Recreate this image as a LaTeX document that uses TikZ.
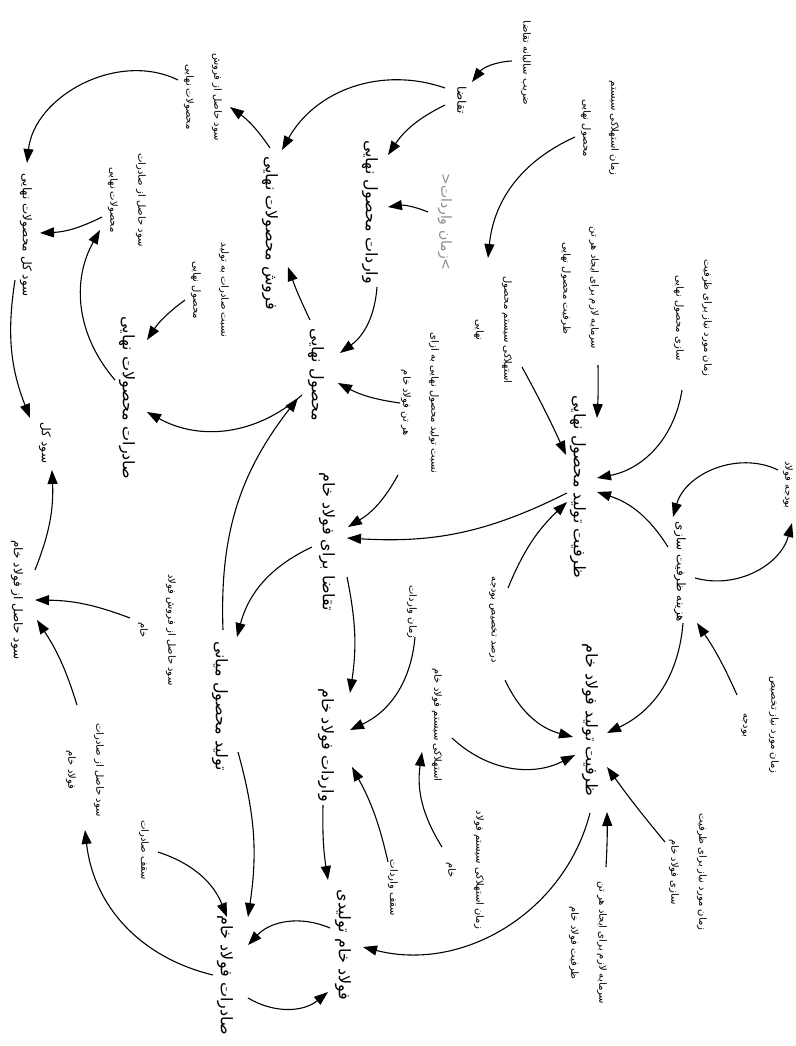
\documentclass[tikz,border=0pt]{standalone}
\usepackage{fontspec}
\usetikzlibrary{arrows.meta,calc}
\newfontfamily\arabicfont[Script=Arabic]{DejaVu Sans}
\TeXXeTstate=1
\newcommand{\fa}[1]{{\arabicfont\beginR #1\endR}}
\definecolor{shadowgray}{RGB}{140,140,140}
\begin{document}
\begin{tikzpicture}[x=1pt,y=1pt,
  vbig/.style={font=\fontsize{16}{19}\selectfont, inner sep=1pt},
  vmed/.style={font=\fontsize{12}{15}\selectfont, inner sep=1pt},
  vsmall/.style={font=\fontsize{10}{28}\selectfont, align=center, inner sep=1pt},
  vshadow/.style={font=\fontsize{14}{17}\selectfont, inner sep=1pt, text=shadowgray},
  arr/.style={draw, line width=1.1pt, -{Triangle[length=14pt,width=10pt]}}]
\fill[white] (0,0) rectangle (795,-1046);
\useasboundingbox (0,0) rectangle (795,-1046);
\begin{scope}[rotate=-90, transform shape]
% ---- large variables
\node[vbig] (FMN) at (233,270) {\fa{فروش محصولات نهایی}};
\node[vbig] (VMN) at (212,370) {\fa{واردات محصول نهایی}};
\node[vbig] (MN) at (375,316) {\fa{محصول نهایی}};
\node[vbig] (SMN) at (398,127) {\fa{صادرات محصولات نهایی}};
\node[vbig] (ZTMN) at (487,578) {\fa{ظرفیت تولید محصول نهایی}};
\node[vbig] (TBF) at (542,327) {\fa{تقاضا برای فولاد خام}};
\node[vbig] (TMM) at (706,220) {\fa{تولید محصول میانی}};
\node[vbig] (VFK) at (745,326) {\fa{واردات فولاد خام}};
\node[vbig] (ZTFK) at (720,590) {\fa{ظرفیت تولید فولاد خام}};
\node[vbig] (FKT) at (945,343) {\fa{فولاد خام تولیدی}};
\node[vbig] (SFK) at (975,225) {\fa{صادرات فولاد خام}};
% ---- medium variables
\node[vmed] (SKMN) at (235,26) {\fa{سود کل محصولات نهایی}};
\node[vmed] (SK) at (443,45) {\fa{سود کل}};
\node[vmed] (SHFK) at (600,17) {\fa{سود حاصل از فولاد خام}};
\node[vmed] (HZS) at (572,680) {\fa{هزینه ظرفیت سازی}};
\node[vmed] (T) at (100,462) {\fa{تقاضا}};
\node[vshadow] (ZV) at (222,445) {{\arabicfont <\beginR زمان واردات\endR>}};
% ---- small variables
\node[vsmall] (ZST) at (63,526) {\fa{ضریب سالیانه تقاضا}};
\node[vsmall] (SHFMN) at (97,203) {\fa{سود حاصل از فروش}\\\fa{محصولات نهایی}};
\node[vsmall] (SHSMN) at (200,127) {\fa{سود حاصل از صادرات}\\\fa{محصولات نهایی}};
\node[vsmall] (NSTMN) at (290,210) {\fa{نسبت صادرات به تولید}\\\fa{محصول نهایی}};
\node[vsmall] (ZESMN) at (128,600) {\fa{زمان استهلاکی سیستم}\\\fa{محصول نهایی}};
\node[vsmall] (ESMN) at (330,493) {\fa{استهلاکی سیستم محصول}\\\fa{نهایی}};
\node[vsmall] (SLMN) at (288,580) {\fa{سرمایه لازم برای ایجاد هر تن}\\\fa{ظرفیت محصول نهایی}};
\node[vsmall] (ZMMN) at (318,693) {\fa{زمان مورد نیاز برای ظرفیت}\\\fa{سازی محصول نهایی}};
\node[vsmall] (BF) at (485,788) {\fa{بودجه فولاد}};
\node[vsmall] (NTMN) at (403,420) {\fa{نسبت تولید محصول نهایی به ازای}\\\fa{هر تن فولاد خام}};
\node[vsmall] (DTB) at (620,493) {\fa{درصد تخصیص بودجه}};
\node[vsmall] (ZVK) at (612,412) {\fa{زمان واردات}};
\node[vsmall] (ZMTB) at (725,760) {\fa{زمان مورد نیاز تخصیص}\\\fa{بودجه}};
\node[vsmall] (ESFK) at (725,437) {\fa{استهلاکی سیستم فولاد خام}};
\node[vsmall] (ZESFK) at (870,465) {\fa{زمان استهلاکی سیستم فولاد}\\\fa{خام}};
\node[vsmall] (ZMFK) at (872,688) {\fa{زمان مورد نیاز برای ظرفیت}\\\fa{سازی فولاد خام}};
\node[vsmall] (SLFK) at (943,588) {\fa{سرمایه لازم برای ایجاد هر تن}\\\fa{ظرفیت فولاد خام}};
\node[vsmall] (SFF) at (630,157) {\fa{سود حاصل از فروش فولاد}\\\fa{خام}};
\node[vsmall] (SSFK) at (770,85) {\fa{سود حاصل از صادرات}\\\fa{فولاد خام}};
\node[vsmall] (SQS) at (850,144) {\fa{سقف صادرات}};
\node[vsmall] (SQV) at (888,393) {\fa{سقف واردات}};
% ---- connectors
\draw[arr] ($(T)+(-12,-17)$) to[bend right=40] ($(FMN)+(-83,12)$);
\draw[arr] ($(T)+(5,-17)$) to[bend right=15] ($(VMN)+(-57,18)$);
\draw[arr] ($(ZST)+(-2,-14)$) to[bend right=25] ($(T)+(-18,10)$);
\draw[arr] ($(ZV)+(-10,-17)$) to[bend right=15] ($(VMN)+(-5,18)$);
\draw[arr] ($(FMN)+(-85,0)$) to[bend right=10] ($(SHFMN)+(10,27)$);
\draw[arr] ($(SHFMN)+(-17,-25)$) to[bend right=55] ($(SKMN)+(-72,1)$);
\draw[arr] ($(SHSMN)+(17,-25)$) to[bend left=12] ($(SKMN)+(-2,14)$);
\draw[arr] ($(SMN)+(-18,-12)$) to[bend left=35] ($(SHSMN)+(30,-27)$);
\draw[arr] ($(NSTMN)+(10,-25)$) to[bend right=10] ($(SMN)+(-58,20)$);
\draw[arr] ($(MN)+(-55,-6)$) to[bend left=3] ($(FMN)+(34,18)$);
\draw[arr] ($(VMN)+(75,7)$) to[bend left=25] ($(MN)+(-22,24)$);
\draw[arr] ($(NTMN)+(0,-20)$) to[bend left=10] ($(MN)+(8,22)$);
\draw[arr] ($(NTMN)+(72,-22)$) to[bend left=15] ($(TBF)+(-15,21)$);
\draw[arr] ($(ZTMN)+(6,-11)$) to[bend left=15] ($(TBF)+(-4,20)$);
\draw[arr] ($(ESMN)+(37,29)$) to[bend left=2] ($(ZTMN)+(-32,-12)$);
\draw[arr] ($(SLMN)+(77,18)$) to[bend left=2] ($(ZTMN)+(-69,19)$);
\draw[arr] ($(ZMMN)+(72,-11)$) to[bend left=35] ($(ZTMN)+(-9,19)$);
\draw[arr] ($(HZS)+(-25,-12)$) to[bend right=20] ($(ZTMN)+(5,19)$);
\draw[arr] ($(DTB)+(-32,15)$) to[bend left=12] ($(ZTMN)+(15,-11)$);
\draw[arr] ($(HZS)+(51,3)$) to[bend left=30] ($(ZTFK)+(13,17)$);
\draw[arr] ($(BF)+(-15,-10)$) to[bend right=50] ($(HZS)+(-55,-7)$);
\draw[arr] ($(HZS)+(6,15)$) to[bend right=45] ($(BF)+(38,4)$);
\draw[arr] ($(ZMTB)+(-30,-23)$) to[bend right=5] ($(HZS)+(51,17)$);
\draw[arr] ($(ZMFK)+(-30,-23)$) to[bend left=2] ($(ZTFK)+(47,17)$);
\draw[arr] ($(SLFK)+(-76,18)$) to[bend right=2] ($(ZTFK)+(92,17)$);
\draw[arr] ($(ESFK)+(13,15)$) to[bend right=35] ($(ZTFK)+(35,-15)$);
\draw[arr] ($(DTB)+(60,12)$) to[bend right=25] ($(ZTFK)+(17,-17)$);
\draw[arr] ($(ZTFK)+(93,0)$) to[bend left=45] ($(FKT)+(2,20)$);
\draw[arr] ($(ZESFK)+(-23,-23)$) to[bend left=20] ($(ESFK)+(27,-15)$);
\draw[arr] ($(ZVK)+(25,3)$) to[bend left=30] ($(VFK)+(-15,24)$);
\draw[arr] ($(TBF)+(35,20)$) to[bend left=10] ($(VFK)+(-52,24)$);
\draw[arr] ($(SQV)+(-26,-5)$) to[bend right=8] ($(VFK)+(22,26)$);
\draw[arr] ($(VFK)+(60,-3)$) to[bend right=5] ($(FKT)+(-65,-15)$);
\draw[arr] ($(FKT)+(-17,-13)$) to[bend right=35] ($(SFK)+(-30,23)$);
\draw[arr] ($(SFK)+(23,23)$) to[bend right=35] ($(FKT)+(47,-15)$);
\draw[arr] ($(TMM)+(46,18)$) to[bend left=12] ($(SFK)+(-58,23)$);
\draw[arr] ($(SQS)+(2,14)$) to[bend left=25] ($(SFK)+(-58,2)$);
\draw[arr] ($(SFK)+(0,-12)$) to[bend left=35] ($(SSFK)+(60,0)$);
\draw[arr] ($(SSFK)+(-65,-8)$) to[bend right=8] ($(SHFK)+(20,20)$);
\draw[arr] ($(SFF)+(-12,-27)$) to[bend right=10] ($(SHFK)+(0,18)$);
\draw[arr] ($(SHFK)+(-30,18)$) to[bend right=12] ($(SK)+(27,7)$);
\draw[arr] ($(SKMN)+(45,-11)$) to[bend right=15] ($(SK)+(-25,-15)$);
\draw[arr] ($(MN)+(20,-14)$) to[bend left=35] ($(SMN)+(14,20)$);
\draw[arr] ($(TMM)+(-76,3)$) to[bend left=20] ($(MN)+(23,-18)$);
\draw[arr] ($(TBF)+(5,-15)$) to[bend right=25] ($(TMM)+(-69,17)$);
\draw[arr] ($(ZESMN)+(9,-25)$) to[bend right=30] ($(ESMN)+(-72,-5)$);
\end{scope}
\end{tikzpicture}
\end{document}
